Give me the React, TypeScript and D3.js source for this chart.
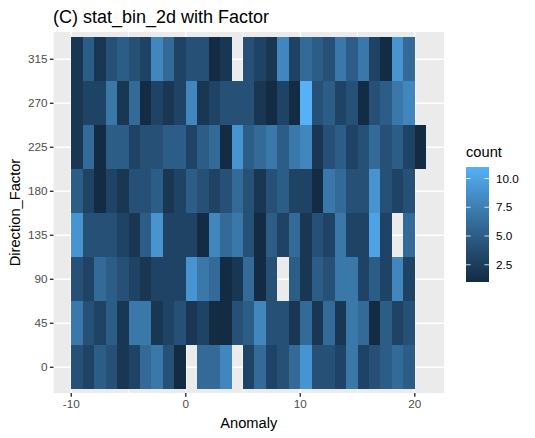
import React from "react";
import * as d3 from "d3";

const directionLevels = ["0", "45", "90", "135", "180", "225", "270", "315"];
const xTicks = [-10, 0, 10, 20];
const xMinorTicks = [-5, 5, 15];
const legendTicks = [2.5, 5, 7.5, 10];
const firstBin = -10;

// counts per 1-wide anomaly bin starting at -10; null = empty bin
const row0 = [4,3,5,4,2,3,6,7,4,1,null,6,6,8,null,3,6,3,4,6,9,4,4,3,7,3,4,5,6,5];
const row45 = [7,4,3,5,2,7,7,2,3,4,2,3,1,1,4,5,8,4,4,2,6,2,6,2,7,6,1,5,3,4];
const row90 = [4,3,6,5,4,3,2,3,3,3,9,7,6,1,2,6,1,4,null,5,2,5,4,7,7,3,5,3,8,3];
const row135 = [9,4,4,4,3,2,5,9,3,3,3,1,8,6,7,4,1,5,3,6,2,4,3,7,3,3,10,3,null,6];
const row180 = [5,3,1,3,2,4,4,5,2,3,5,4,3,4,6,4,2,4,5,3,3,1,7,6,4,4,9,4,3,4];
const row225 = [2,6,1,5,5,3,4,4,5,5,3,5,6,1,9,5,6,7,5,7,8,2,4,5,3,4,6,4,5,3,1];
const row270 = [2,3,3,7,2,6,1,3,2,3,8,2,3,4,4,4,2,1,3,1,11,4,5,3,4,1,4,5,7,8];
const row315 = [2,5,2,4,5,4,3,8,6,3,4,4,1,2,null,4,3,2,8,3,6,5,4,7,5,7,3,1,9,6];
const rows = [row0, row45, row90, row135, row180, row225, row270, row315];

const W = 535, H = 438;
const panel = { l: 53.5, r: 444, t: 32, b: 393 };
const sans = "'Liberation Sans', Arial, sans-serif";

export default function App() {
  const x = d3.scaleLinear().domain([-11.55, 22.55]).range([panel.l, panel.r]);
  const y = d3.scalePoint<string>().domain(directionLevels).range([367.3, 59.3]);
  const step = y.step();
  const color = d3.scaleLinear<string>().domain([1, 11]).range(["#132B43", "#56B1F7"]).interpolate(d3.interpolateLab);
  const legendY = d3.scaleLinear().domain([1, 11]).range([282, 167]);
  const stops = d3.range(0, 1.0001, 0.05);
  return (
    <svg width={W} height={H} style={{ position: "absolute", left: 0, top: 0, background: "#fff" }}>
      <defs>
        <linearGradient id="lg" x1="0" y1="1" x2="0" y2="0">
          {stops.map((s) => <stop key={s} offset={s} stopColor={color(1 + 10 * s)} />)}
        </linearGradient>
      </defs>
      <text x={53} y={23} fontFamily={sans} fontSize={17.6} fill="#000" textLength={216} lengthAdjust="spacingAndGlyphs">(C) stat_bin_2d with Factor</text>
      <rect x={panel.l} y={panel.t} width={panel.r - panel.l} height={panel.b - panel.t} fill="#EBEBEB" />
      {xMinorTicks.map((t) => <line key={t} x1={x(t)} x2={x(t)} y1={panel.t} y2={panel.b} stroke="#fff" strokeWidth={0.7} />)}
      {xTicks.map((t) => <line key={t} x1={x(t)} x2={x(t)} y1={panel.t} y2={panel.b} stroke="#fff" strokeWidth={1.4} />)}
      {directionLevels.map((d) => <line key={d} x1={panel.l} x2={panel.r} y1={y(d)} y2={y(d)} stroke="#fff" strokeWidth={1.4} />)}
      {rows.map((row, r) =>
        row.map((v, i) => v == null ? null : (
          <rect key={`${r}-${i}`} x={x(firstBin + i)} width={x(firstBin + i + 1) - x(firstBin + i)}
            y={y(directionLevels[r])! - step / 2} height={step} fill={color(v)} shapeRendering="crispEdges" />
        ))
      )}
      {xTicks.map((t) => (
        <g key={t}>
          <line x1={x(t)} x2={x(t)} y1={panel.b} y2={panel.b + 3.65} stroke="#333" strokeWidth={1.4} />
          <text x={x(t)} y={panel.b + 15} textAnchor="middle" fontFamily={sans} fontSize={11.73} fill="#4D4D4D">{t}</text>
        </g>
      ))}
      {directionLevels.map((d) => (
        <g key={d}>
          <line x1={panel.l - 3.65} x2={panel.l} y1={y(d)} y2={y(d)} stroke="#333" strokeWidth={1.4} />
          <text x={panel.l - 6} y={y(d)! + 4.1} textAnchor="end" fontFamily={sans} fontSize={11.73} fill="#4D4D4D">{d}</text>
        </g>
      ))}
      <text x={(panel.l + panel.r) / 2} y={428} textAnchor="middle" fontFamily={sans} fontSize={14.67} fill="#000">Anomaly</text>
      <text transform={`translate(20,${(panel.t + panel.b) / 2}) rotate(-90)`} textAnchor="middle" fontFamily={sans} fontSize={14.67} fill="#000">Direction_Factor</text>
      <text x={466} y={157} fontFamily={sans} fontSize={14.67} fill="#000">count</text>
      <rect x={466} y={167} width={23} height={115} fill="url(#lg)" />
      {legendTicks.map((t) => (
        <g key={t}>
          <line x1={466} x2={470.6} y1={legendY(t)} y2={legendY(t)} stroke="#fff" strokeWidth={0.8} />
          <line x1={484.4} x2={489} y1={legendY(t)} y2={legendY(t)} stroke="#fff" strokeWidth={0.8} />
          <text x={496} y={legendY(t) + 4.1} fontFamily={sans} fontSize={11.73} fill="#000">{t.toFixed(1)}</text>
        </g>
      ))}
    </svg>
  );
}
